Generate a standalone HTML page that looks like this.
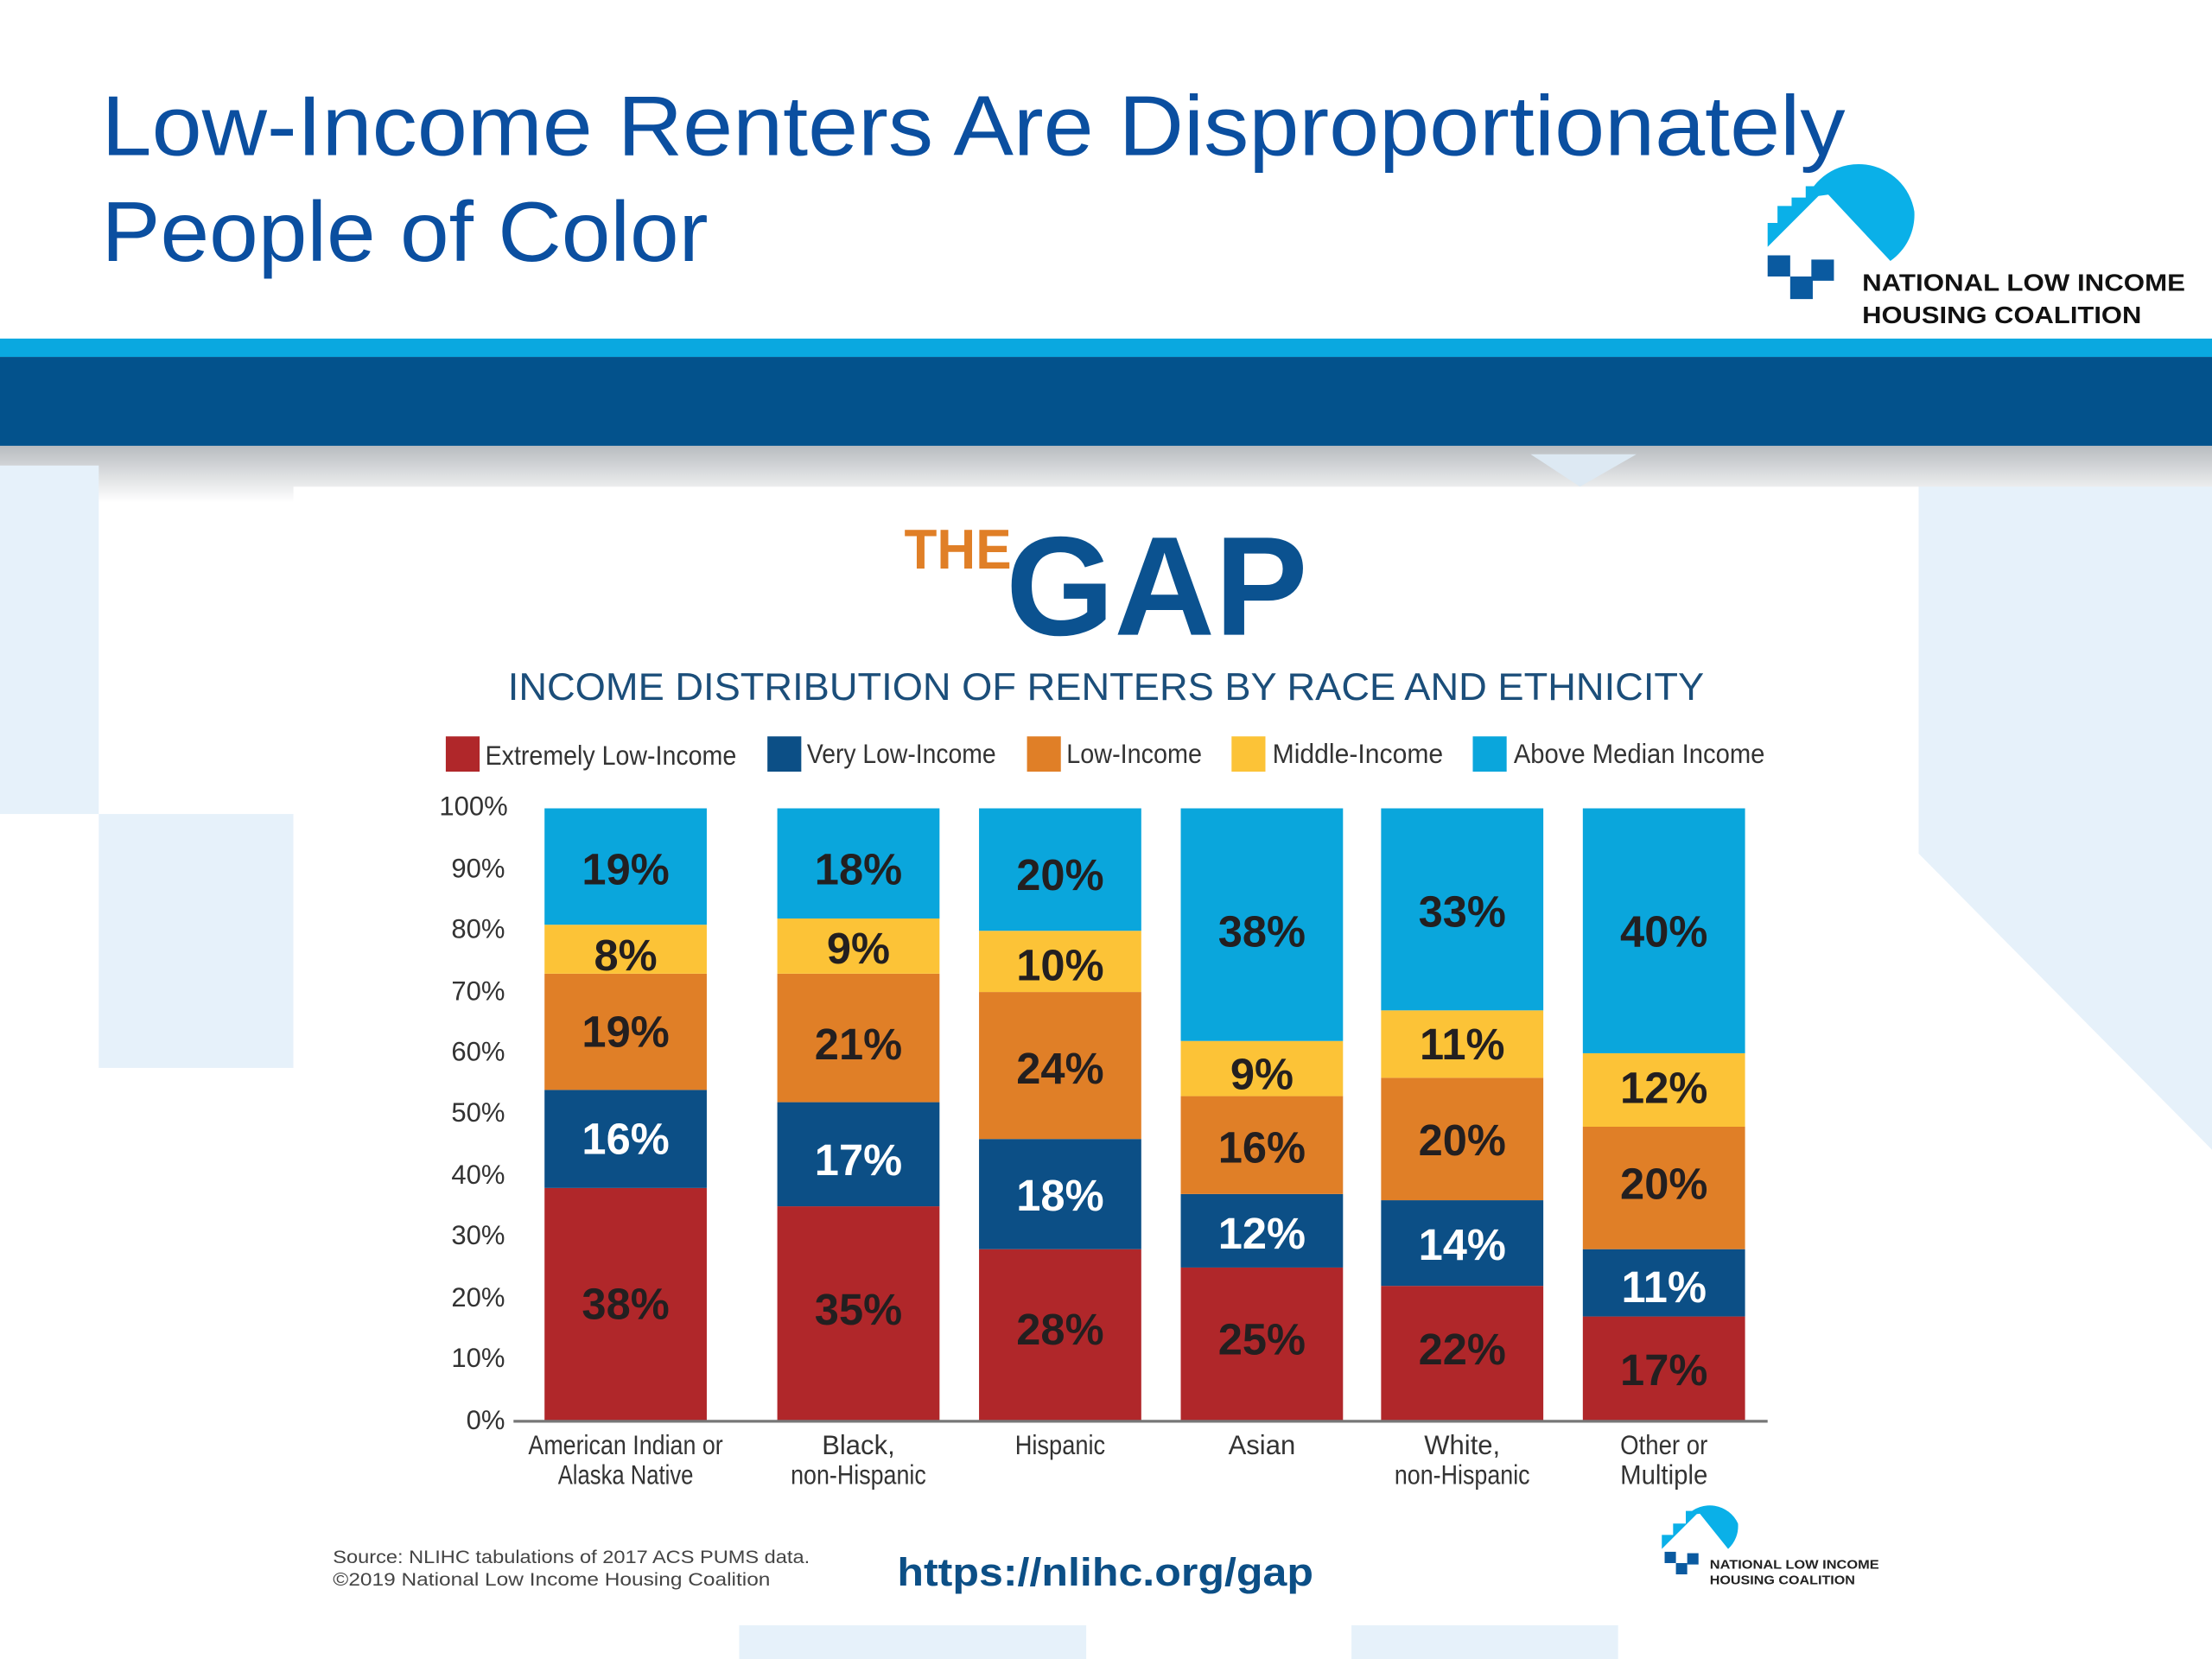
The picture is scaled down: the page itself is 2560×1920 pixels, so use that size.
<!DOCTYPE html>
<html><head><meta charset="utf-8"><style>
html,body{margin:0;padding:0;background:#fff;}
svg{display:block;}
text{font-family:"Liberation Sans",sans-serif;}
.v{font-weight:bold;font-size:31px;text-anchor:middle;fill:#231f20;}
.w{fill:#fff;}
.t{font-size:19px;fill:#333;text-anchor:end;}
.c{font-size:19px;fill:#333;text-anchor:middle;}
.l{font-size:19px;fill:#333;}
</style></head><body>
<svg width="2560" height="1920" viewBox="0 0 1568 1176" xmlns="http://www.w3.org/2000/svg">
<defs>
<linearGradient id="sh" x1="0" y1="0" x2="0" y2="1"><stop offset="0" stop-color="#b8bcc0"/><stop offset="1" stop-color="#ffffff"/></linearGradient>
</defs>
<rect width="1568" height="1176" fill="#fff"/>
<!-- background shapes -->
<rect x="0" y="316" width="1568" height="40" fill="url(#sh)"/>
<rect x="0" y="330" width="70" height="247" fill="#e6f1fa"/>
<rect x="70" y="577" width="138" height="180" fill="#e6f1fa"/>
<polygon points="1360,345 1568,345 1568,815 1360,605" fill="#e6f1fa"/>
<polygon points="1085,322 1160,322 1120,345" fill="#dde9f3"/>
<rect x="524" y="1152" width="246" height="24" fill="#e6f1fa"/>
<rect x="958" y="1152" width="189" height="24" fill="#e6f1fa"/>
<rect x="208" y="345" width="1152" height="807" fill="#fff"/>
<!-- header bars -->
<rect x="0" y="240" width="1568" height="13" fill="#0aa8e0"/>
<rect x="0" y="253" width="1568" height="63" fill="#03528c"/>
<!-- title -->
<text x="72" y="110" font-size="60" fill="#0b4fa0" textLength="1236" lengthAdjust="spacingAndGlyphs">Low-Income Renters Are Disproportionately</text>
<text x="72" y="185" font-size="60" fill="#0b4fa0" textLength="430" lengthAdjust="spacingAndGlyphs">People of Color</text>
<!-- logo -->
<g>
<path d="M1281,140 A40,40 0 0 1 1357,150 A40,40 0 0 1 1340,185 L1296,138 Z" fill="#0ab0e8"/>
<polygon points="1296,132 1253,175 1253,158 1260,158 1260,146 1270,146 1270,140 1280,140 1280,132" fill="#0ab0e8"/>
<rect x="1253" y="181" width="16" height="15" fill="#0a5aa0"/>
<rect x="1269" y="196" width="16" height="16" fill="#0a5aa0"/>
<rect x="1284" y="184" width="16" height="15" fill="#0a5aa0"/>
<text x="1320" y="206" font-size="17" font-weight="bold" fill="#111" textLength="229" lengthAdjust="spacingAndGlyphs">NATIONAL LOW INCOME</text>
<text x="1320" y="229" font-size="17" font-weight="bold" fill="#111" textLength="198" lengthAdjust="spacingAndGlyphs">HOUSING COALITION</text>
</g>
<!-- THE GAP -->
<text x="641" y="403" font-size="40" font-weight="bold" fill="#e07f27" textLength="76" lengthAdjust="spacingAndGlyphs">THE</text>
<text x="713" y="450" font-size="100" font-weight="bold" fill="#0b5290" textLength="214" lengthAdjust="spacingAndGlyphs">GAP</text>
<text x="784" y="496" font-size="27" fill="#1b4e7a" text-anchor="middle" textLength="848" lengthAdjust="spacingAndGlyphs">INCOME DISTRIBUTION OF RENTERS BY RACE AND ETHNICITY</text>
<!-- legend -->
<rect x="316" y="522" width="24" height="25" fill="#b0272a"/><text class="l" x="344" y="542" textLength="178" lengthAdjust="spacingAndGlyphs">Extremely Low-Income</text>
<rect x="544" y="522" width="24" height="25" fill="#0c4f86"/><text class="l" x="572" y="541" textLength="134" lengthAdjust="spacingAndGlyphs">Very Low-Income</text>
<rect x="728" y="522" width="24" height="25" fill="#e07f27"/><text class="l" x="756" y="541" textLength="96" lengthAdjust="spacingAndGlyphs">Low-Income</text>
<rect x="873" y="522" width="24" height="25" fill="#fcc337"/><text class="l" x="902" y="541" textLength="121" lengthAdjust="spacingAndGlyphs">Middle-Income</text>
<rect x="1044" y="522" width="24" height="25" fill="#0aa6dc"/><text class="l" x="1073" y="541" textLength="178" lengthAdjust="spacingAndGlyphs">Above Median Income</text>
<!-- y ticks -->
<text class="t" x="360" y="578">100%</text>
<text class="t" x="358" y="622">90%</text>
<text class="t" x="358" y="665">80%</text>
<text class="t" x="358" y="709">70%</text>
<text class="t" x="358" y="752">60%</text>
<text class="t" x="358" y="795">50%</text>
<text class="t" x="358" y="839">40%</text>
<text class="t" x="358" y="882">30%</text>
<text class="t" x="358" y="926">20%</text>
<text class="t" x="358" y="969">10%</text>
<text class="t" x="358" y="1013">0%</text>
<!-- bars -->
<g>
<rect x="386" y="842.1" width="115" height="164.9" fill="#b0272a"/>
<rect x="386" y="772.6" width="115" height="69.5" fill="#0c4f86"/>
<rect x="386" y="690.2" width="115" height="82.4" fill="#e07f27"/>
<rect x="386" y="655.5" width="115" height="34.7" fill="#fcc337"/>
<rect x="386" y="573" width="115" height="82.5" fill="#0aa6dc"/>
<rect x="551" y="855.1" width="115" height="151.9" fill="#b0272a"/>
<rect x="551" y="781.3" width="115" height="73.8" fill="#0c4f86"/>
<rect x="551" y="690.2" width="115" height="91.1" fill="#e07f27"/>
<rect x="551" y="651.1" width="115" height="39.1" fill="#fcc337"/>
<rect x="551" y="573" width="115" height="78.1" fill="#0aa6dc"/>
<rect x="694" y="885.5" width="115" height="121.5" fill="#b0272a"/>
<rect x="694" y="807.4" width="115" height="78.1" fill="#0c4f86"/>
<rect x="694" y="703.2" width="115" height="104.2" fill="#e07f27"/>
<rect x="694" y="659.8" width="115" height="43.4" fill="#fcc337"/>
<rect x="694" y="573" width="115" height="86.8" fill="#0aa6dc"/>
<rect x="837" y="898.5" width="115" height="108.5" fill="#b0272a"/>
<rect x="837" y="846.4" width="115" height="52.1" fill="#0c4f86"/>
<rect x="837" y="777" width="115" height="69.4" fill="#e07f27"/>
<rect x="837" y="737.9" width="115" height="39.1" fill="#fcc337"/>
<rect x="837" y="573" width="115" height="164.9" fill="#0aa6dc"/>
<rect x="979" y="911.5" width="115" height="95.5" fill="#b0272a"/>
<rect x="979" y="850.8" width="115" height="60.7" fill="#0c4f86"/>
<rect x="979" y="764" width="115" height="86.8" fill="#e07f27"/>
<rect x="979" y="716.2" width="115" height="47.8" fill="#fcc337"/>
<rect x="979" y="573" width="115" height="143.2" fill="#0aa6dc"/>
<rect x="1122" y="933.2" width="115" height="73.8" fill="#b0272a"/>
<rect x="1122" y="885.5" width="115" height="47.7" fill="#0c4f86"/>
<rect x="1122" y="798.7" width="115" height="86.8" fill="#e07f27"/>
<rect x="1122" y="746.6" width="115" height="52.1" fill="#fcc337"/>
<rect x="1122" y="573" width="115" height="173.6" fill="#0aa6dc"/>
</g>
<line x1="364" y1="1007.5" x2="1253" y2="1007.5" stroke="#777" stroke-width="2"/>
<!-- value labels -->
<g>
<text class="v" x="443.5" y="935">38%</text><text class="v w" x="443.5" y="818">16%</text><text class="v" x="443.5" y="742">19%</text><text class="v" x="443.5" y="688">8%</text><text class="v" x="443.5" y="627">19%</text>
<text class="v" x="608.5" y="939">35%</text><text class="v w" x="608.5" y="833">17%</text><text class="v" x="608.5" y="751">21%</text><text class="v" x="608.5" y="683">9%</text><text class="v" x="608.5" y="627">18%</text>
<text class="v" x="751.5" y="953">28%</text><text class="v w" x="751.5" y="858">18%</text><text class="v" x="751.5" y="768">24%</text><text class="v" x="751.5" y="695">10%</text><text class="v" x="751.5" y="631">20%</text>
<text class="v" x="894.5" y="960">25%</text><text class="v w" x="894.5" y="885">12%</text><text class="v" x="894.5" y="824">16%</text><text class="v" x="894.5" y="772">9%</text><text class="v" x="894.5" y="671">38%</text>
<text class="v" x="1036.5" y="967">22%</text><text class="v w" x="1036.5" y="893">14%</text><text class="v" x="1036.5" y="819">20%</text><text class="v" x="1036.5" y="751">11%</text><text class="v" x="1036.5" y="657">33%</text>
<text class="v" x="1179.5" y="982">17%</text><text class="v w" x="1179.5" y="923">11%</text><text class="v" x="1179.5" y="850">20%</text><text class="v" x="1179.5" y="782">12%</text><text class="v" x="1179.5" y="671">40%</text>
</g>
<!-- category labels -->
<text class="c" x="443.5" y="1031" textLength="138" lengthAdjust="spacingAndGlyphs">American Indian or</text>
<text class="c" x="443.5" y="1052" textLength="96" lengthAdjust="spacingAndGlyphs">Alaska Native</text>
<text class="c" x="608.5" y="1031">Black,</text>
<text class="c" x="608.5" y="1052" textLength="96" lengthAdjust="spacingAndGlyphs">non-Hispanic</text>
<text class="c" x="751.5" y="1031" textLength="64" lengthAdjust="spacingAndGlyphs">Hispanic</text>
<text class="c" x="894.5" y="1031">Asian</text>
<text class="c" x="1036.5" y="1031">White,</text>
<text class="c" x="1036.5" y="1052" textLength="96" lengthAdjust="spacingAndGlyphs">non-Hispanic</text>
<text class="c" x="1179.5" y="1031" textLength="62" lengthAdjust="spacingAndGlyphs">Other or</text>
<text class="c" x="1179.5" y="1052" textLength="62" lengthAdjust="spacingAndGlyphs">Multiple</text>
<!-- footer -->
<text x="236" y="1108" font-size="13" fill="#444" textLength="338" lengthAdjust="spacingAndGlyphs">Source: NLIHC tabulations of 2017 ACS PUMS data.</text>
<text x="236" y="1124" font-size="13" fill="#444" textLength="310" lengthAdjust="spacingAndGlyphs">©2019 National Low Income Housing Coalition</text>
<text x="636" y="1124" font-size="28" font-weight="bold" fill="#0c4f86" textLength="295" lengthAdjust="spacingAndGlyphs">https://nlihc.org/gap</text>
<g>
<path d="M1196,1074 A22,22 0 0 1 1232,1080 A22,22 0 0 1 1225,1098 L1205,1073 Z" fill="#0ab0e8"/>
<polygon points="1205,1071 1178,1098 1178,1088 1186,1088 1186,1080 1195,1080 1195,1071" fill="#0ab0e8"/>
<rect x="1180" y="1100" width="8" height="8" fill="#0a5aa0"/>
<rect x="1188" y="1108" width="8" height="8" fill="#0a5aa0"/>
<rect x="1196" y="1101" width="8" height="8" fill="#0a5aa0"/>
<text x="1212" y="1112" font-size="9" font-weight="bold" fill="#222" textLength="120" lengthAdjust="spacingAndGlyphs">NATIONAL LOW INCOME</text>
<text x="1212" y="1123" font-size="9" font-weight="bold" fill="#222" textLength="103" lengthAdjust="spacingAndGlyphs">HOUSING COALITION</text>
</g>
</svg>
</body></html>
